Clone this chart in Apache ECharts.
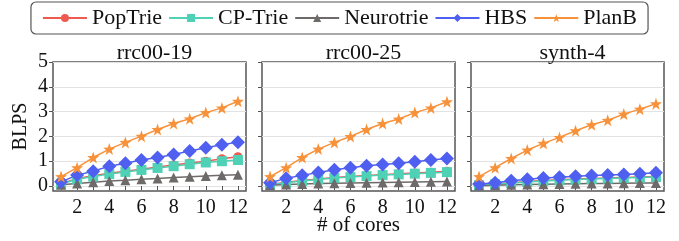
<!DOCTYPE html>
<html>
<head>
<meta charset="utf-8">
<script src="https://cdn.jsdelivr.net/npm/echarts@6/dist/echarts.min.js"></script>
<style>
  html, body { margin: 0; padding: 0; background: #fff; }
  #chart { width: 679px; height: 241px; }
</style>
</head>
<body>
<div id="chart"></div>
<script>
// 横轴: 核数 1..12
const cores = ['1', '2', '3', '4', '5', '6', '7', '8', '9', '10', '11', '12']
const yTicks = [0, 1, 2, 3, 4, 5]
const panels = ['rrc00-19', 'rrc00-25', 'synth-4']

// 每个面板一组数值(BLPS)
const popTrie = [
  [0.10, 0.30, 0.42, 0.52, 0.60, 0.68, 0.77, 0.85, 0.93, 1.00, 1.10, 1.18],
  [0.06, 0.15, 0.22, 0.28, 0.34, 0.38, 0.42, 0.46, 0.50, 0.53, 0.56, 0.60],
  [0.04, 0.08, 0.13, 0.18, 0.22, 0.25, 0.28, 0.30, 0.32, 0.34, 0.36, 0.38]
]
const cpTrie = [
  [0.08, 0.27, 0.38, 0.48, 0.57, 0.65, 0.73, 0.80, 0.88, 0.95, 1.00, 1.05],
  [0.05, 0.13, 0.20, 0.26, 0.32, 0.36, 0.40, 0.44, 0.47, 0.50, 0.53, 0.56],
  [0.03, 0.07, 0.12, 0.16, 0.20, 0.23, 0.26, 0.28, 0.30, 0.32, 0.34, 0.36]
]
const neurotrie = [
  [0.05, 0.10, 0.15, 0.20, 0.23, 0.27, 0.30, 0.34, 0.37, 0.40, 0.43, 0.46],
  [0.03, 0.06, 0.08, 0.10, 0.11, 0.12, 0.13, 0.14, 0.15, 0.16, 0.17, 0.18],
  [0.01, 0.03, 0.05, 0.06, 0.07, 0.08, 0.09, 0.10, 0.10, 0.11, 0.12, 0.12]
]
const hbs = [
  [0.17, 0.44, 0.60, 0.80, 0.92, 1.05, 1.15, 1.27, 1.41, 1.54, 1.66, 1.77],
  [0.13, 0.31, 0.43, 0.55, 0.66, 0.74, 0.82, 0.87, 0.92, 0.98, 1.05, 1.11],
  [0.08, 0.13, 0.21, 0.27, 0.32, 0.35, 0.39, 0.42, 0.44, 0.47, 0.50, 0.54]
]
const planB = [
  [0.38, 0.74, 1.15, 1.49, 1.76, 2.01, 2.28, 2.52, 2.71, 2.96, 3.15, 3.42],
  [0.38, 0.74, 1.15, 1.49, 1.76, 2.00, 2.28, 2.52, 2.70, 2.96, 3.15, 3.40],
  [0.38, 0.74, 1.11, 1.45, 1.72, 1.96, 2.23, 2.47, 2.65, 2.90, 3.10, 3.32]
]

const SERIES = [
  { name: 'PopTrie', data: popTrie, color: '#ee5a4f', symbol: 'circle', size: 9 },
  { name: 'CP-Trie', data: cpTrie, color: '#4fd1b5', symbol: 'rect', size: 10 },
  { name: 'Neurotrie', data: neurotrie, color: '#6e6a6a', symbol: 'triangle', size: 10 },
  { name: 'HBS', data: hbs, color: '#4f5ff0', symbol: 'diamond', size: 14 },
  { name: 'PlanB', data: planB, color: '#f8923a', symbol: 'path://M0,-10L2.35,-3.24L9.51,-3.09L3.8,1.24L5.88,8.09L0,4L-5.88,8.09L-3.8,1.24L-9.51,-3.09L-2.35,-3.24Z', size: 12 }
]

const FONT = "'Liberation Serif', 'DejaVu Serif', serif"
const INK = '#111'
const FRAME = '#555'
const LEFTS = [53, 262, 471]
const W = 193

const chart = echarts.init(document.getElementById('chart'))

// outerBoundsMode: 'none' 防止 v6 因坐标轴名称超界而压缩网格
const grids = LEFTS.map(l => ({
  left: l, top: 62, width: W, height: 129,
  outerBoundsMode: 'none', containLabel: false,
  show: true, borderColor: FRAME, borderWidth: 1.5, backgroundColor: 'transparent'
}))

const xAxes = panels.map((p, i) => ({
  type: 'category', gridIndex: i, data: cores, boundaryGap: true,
  axisLine: { show: false },
  axisTick: { show: true, alignWithLabel: true, interval: 0, length: 4, lineStyle: { color: FRAME } },
  axisLabel: {
    interval: idx => idx % 2 === 1,
    color: INK, fontFamily: FONT, fontSize: 20, margin: 7
  },
  name: i === 1 ? '# of cores' : '',
  nameLocation: 'middle', nameGap: 24, nameMoveOverlap: false,
  nameTextStyle: { color: INK, fontFamily: FONT, fontSize: 21, verticalAlign: 'top' }
}))

const yAxes = panels.map((p, i) => ({
  type: 'value', gridIndex: i, min: -0.2, max: 5,
  axisLine: { show: false },
  axisTick: { show: true, length: 4, customValues: yTicks, lineStyle: { color: FRAME } },
  axisLabel: {
    show: i === 0, customValues: yTicks,
    color: INK, fontFamily: FONT, fontSize: 20, margin: 5
  },
  splitLine: { show: true, lineStyle: { color: '#e2e2e2', width: 1 } },
  name: i === 0 ? 'BLPS' : '',
  nameLocation: 'middle', nameGap: 22, nameRotate: 90, nameMoveOverlap: false,
  nameTextStyle: { color: INK, fontFamily: FONT, fontSize: 20 }
}))

const series = []
panels.forEach((p, i) => {
  SERIES.forEach(s => {
    series.push({
      name: s.name, type: 'line', xAxisIndex: i, yAxisIndex: i,
      data: s.data[i], symbol: s.symbol, symbolSize: s.size,
      showSymbol: true, showAllSymbol: true,
      itemStyle: { color: s.color },
      lineStyle: { color: s.color, width: 1.5 },
      animation: false
    })
  })
})

chart.setOption({
  animation: false,
  textStyle: { fontFamily: FONT },
  title: panels.map((p, i) => ({
    text: p, left: LEFTS[i] + W / 2, top: 37, textAlign: 'center',
    textStyle: { color: INK, fontFamily: FONT, fontSize: 22, fontWeight: 'normal' }
  })),
  legend: {
    top: 2, left: 'center',
    data: SERIES.map(s => s.name),
    itemWidth: 44, itemHeight: 10, itemGap: 6,
    padding: [5, 11],
    borderColor: FRAME, borderWidth: 1.2, borderRadius: 5,
    textStyle: { color: INK, fontFamily: FONT, fontSize: 22 }
  },
  grid: grids,
  xAxis: xAxes,
  yAxis: yAxes,
  series
})
window.addEventListener('resize', () => chart.resize())
</script>
</body>
</html>
